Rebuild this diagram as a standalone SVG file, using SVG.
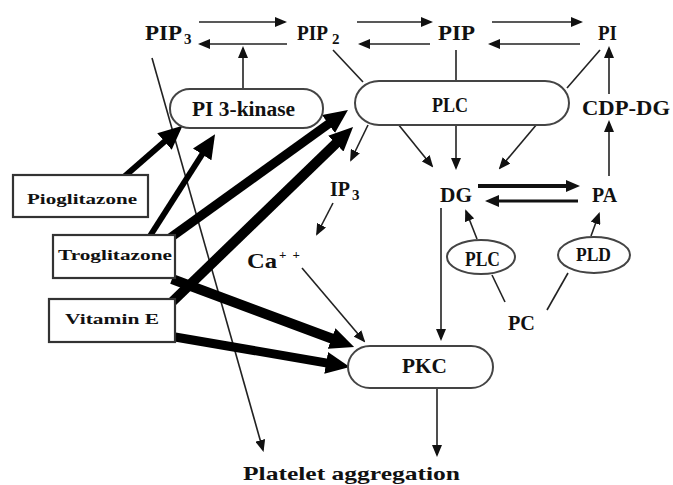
<svg xmlns="http://www.w3.org/2000/svg" width="673" height="485" viewBox="0 0 673 485">
<style>
text{font-family:"Liberation Serif","Times New Roman",serif;font-weight:bold;fill:#111}
.lbl{font-size:22px}
.sub{font-size:15px}
.box{fill:#fff;stroke:#333;stroke-width:2.2}
.pill{fill:#fff;stroke:#444;stroke-width:2}
.thin{stroke:#222;stroke-width:1.6;fill:none}
.tha{stroke:#222;stroke-width:1.6;fill:none;marker-end:url(#ah)}
.med{stroke:#111;fill:none;marker-end:url(#am)}
.big{stroke:#000;fill:none;marker-end:url(#ab)}
.bx{font-size:15px}
</style>
<defs>
<marker id="ah" markerUnits="userSpaceOnUse" markerWidth="12" markerHeight="10" viewBox="0 0 12 10" refX="10" refY="5" orient="auto"><path d="M0,0 L12,5 L0,10 z" fill="#111"/></marker>
<marker id="am" markerUnits="userSpaceOnUse" markerWidth="14" markerHeight="12" viewBox="0 0 14 12" refX="5" refY="6" orient="auto"><path d="M0,0 L14,6 L0,12 z" fill="#111"/></marker>
<marker id="ab" markerUnits="userSpaceOnUse" markerWidth="24" markerHeight="22" viewBox="0 0 24 22" refX="10" refY="11" orient="auto"><path d="M0,0 L24,11 L0,22 z" fill="#000"/></marker>
</defs>

<g id="connectors">
<line class="tha" x1="199" y1="22" x2="285" y2="22"/>
<line class="tha" x1="287" y1="44" x2="200" y2="44"/>
<line class="tha" x1="357" y1="22" x2="431" y2="22"/>
<line class="tha" x1="430" y1="44" x2="360" y2="44"/>
<line class="tha" x1="492" y1="22" x2="581" y2="22"/>
<line class="tha" x1="580" y1="44" x2="490" y2="44"/>
<line class="tha" x1="243" y1="89" x2="243" y2="48"/>
<line class="tha" x1="609" y1="94" x2="609" y2="48"/>
<line class="tha" x1="609" y1="176" x2="609" y2="122"/>
<line class="thin" x1="333" y1="50" x2="363" y2="82"/>
<line class="thin" x1="456" y1="50" x2="456" y2="81"/>
<line class="thin" x1="600" y1="50" x2="567" y2="88"/>
<line class="tha" x1="398" y1="124" x2="432" y2="166"/>
<line class="tha" x1="456" y1="125" x2="456" y2="168"/>
<line class="tha" x1="537" y1="124" x2="500" y2="168"/>
<line class="tha" x1="368" y1="125" x2="351" y2="160"/>
<line class="tha" x1="333" y1="203" x2="317" y2="234"/>
<line class="tha" x1="302" y1="268" x2="364" y2="341"/>
<line class="med" x1="478" y1="186" x2="571" y2="186" stroke-width="4"/>
<line class="med" x1="578" y1="201" x2="494" y2="201" stroke-width="3"/>
<line class="tha" x1="477" y1="239" x2="466" y2="211"/>
<line class="tha" x1="591" y1="236" x2="599" y2="214"/>
<line class="thin" x1="505" y1="302" x2="492" y2="275"/>
<line class="thin" x1="547" y1="310" x2="568" y2="273"/>
<line class="tha" x1="441" y1="208" x2="441" y2="339"/>
<line class="tha" x1="437" y1="388" x2="437" y2="455"/>
<line class="tha" x1="152" y1="58" x2="263" y2="450"/>
<line class="big" x1="125" y1="176" x2="172" y2="135" stroke-width="6"/>
<line class="big" x1="150" y1="236" x2="207.5" y2="146" stroke-width="6"/>
<line class="big" x1="170" y1="238" x2="336.6" y2="118.2" stroke-width="9"/>
<line class="big" x1="172" y1="302" x2="343" y2="136.7" stroke-width="10"/>
<line class="big" x1="172" y1="279" x2="341" y2="342" stroke-width="10"/>
<line class="big" x1="175" y1="337" x2="336" y2="364.6" stroke-width="9"/>
</g>

<g id="PIP3"><text class="lbl" x="145" y="40" textLength="37" lengthAdjust="spacingAndGlyphs">PIP</text><text class="sub" x="184" y="44">3</text></g>
<g id="PIP2"><text class="lbl" x="297" y="40" textLength="31" lengthAdjust="spacingAndGlyphs">PIP</text><text class="sub" x="332" y="44">2</text></g>
<g id="PIP"><text class="lbl" x="438" y="40" textLength="37" lengthAdjust="spacingAndGlyphs">PIP</text></g>
<g id="PI"><text class="lbl" x="598" y="40" textLength="19" lengthAdjust="spacingAndGlyphs">PI</text></g>
<g id="CDPDG"><text class="lbl" x="582" y="115" font-size="24" textLength="88" lengthAdjust="spacingAndGlyphs">CDP-DG</text></g>

<g id="PI3K"><rect class="pill" x="170" y="89" width="153" height="39" rx="20" ry="19"/><text x="192" y="116" font-size="20" textLength="103" lengthAdjust="spacingAndGlyphs">PI 3-kinase</text></g>
<g id="PLC"><rect class="pill" x="355" y="81" width="214" height="44" rx="24" ry="22"/><text x="432" y="112" font-size="20" textLength="36" lengthAdjust="spacingAndGlyphs">PLC</text></g>

<g id="IP3"><text class="lbl" x="330" y="196" textLength="20" lengthAdjust="spacingAndGlyphs">IP</text><text class="sub" x="352" y="200">3</text></g>
<g id="DG"><text class="lbl" x="440" y="202" font-size="24" textLength="32" lengthAdjust="spacingAndGlyphs">DG</text></g>
<g id="PA"><text class="lbl" x="592" y="202" font-size="24" textLength="25" lengthAdjust="spacingAndGlyphs">PA</text></g>
<g id="Ca"><text class="lbl" x="247" y="268" textLength="30" lengthAdjust="spacingAndGlyphs">Ca</text><text x="279" y="259" font-size="13" textLength="21" lengthAdjust="spacing">+ +</text></g>

<g id="PLC2"><ellipse class="pill" cx="481" cy="257" rx="34" ry="17"/><text x="465" y="266" font-size="20" textLength="35" lengthAdjust="spacingAndGlyphs">PLC</text></g>
<g id="PLD"><ellipse class="pill" cx="594" cy="255" rx="36" ry="18"/><text x="576" y="261" font-size="18" textLength="35" lengthAdjust="spacingAndGlyphs">PLD</text></g>
<g id="PC"><text class="lbl" x="508" y="330" font-size="24" textLength="27" lengthAdjust="spacingAndGlyphs">PC</text></g>

<g id="PKC"><rect class="pill" x="348" y="346" width="145" height="42" rx="22" ry="21"/><text x="402" y="373" font-size="22" textLength="45" lengthAdjust="spacingAndGlyphs">PKC</text></g>

<g id="Pioglitazone"><rect class="box" x="13" y="175" width="135" height="42"/><text class="bx" x="27" y="204" textLength="110" lengthAdjust="spacingAndGlyphs">Pioglitazone</text></g>
<g id="Troglitazone"><rect class="box" x="53" y="235" width="122" height="43"/><text class="bx" x="58" y="260" textLength="114" lengthAdjust="spacingAndGlyphs">Troglitazone</text></g>
<g id="VitaminE"><rect class="box" x="49" y="299" width="126" height="43"/><text class="bx" x="65" y="324" textLength="94" lengthAdjust="spacingAndGlyphs">Vitamin E</text></g>

<g id="Platelet"><text x="243" y="480" font-size="19" textLength="217" lengthAdjust="spacingAndGlyphs">Platelet aggregation</text></g>
</svg>
